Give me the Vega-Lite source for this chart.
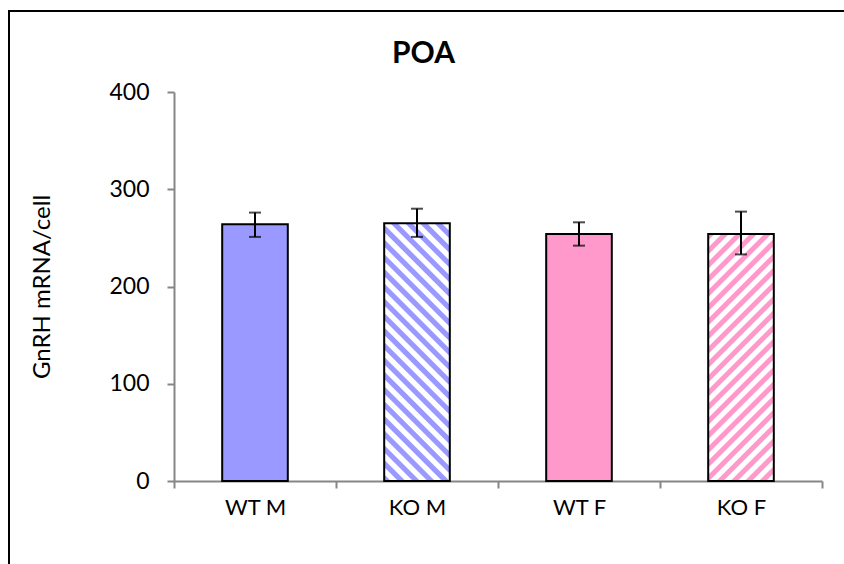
{
  "$schema": "https://vega.github.io/schema/vega-lite/v6.json",
  "autosize": {"type": "none"},
  "padding": {"left": 9, "top": 11, "right": 0, "bottom": 0},
  "width": 835,
  "height": 553,
  "background": "white",
  "title": {
    "text": "POA",
    "font": "Lato",
    "fontSize": 30,
    "fontWeight": "bold",
    "color": "black",
    "anchor": "middle",
    "dx": -3,
    "offset": -58
  },
  "data": {
    "values": [
      {"group": "WT M", "mean": 264, "lo": 251, "hi": 276},
      {"group": "KO M", "mean": 265, "lo": 251, "hi": 280},
      {"group": "WT F", "mean": 254, "lo": 242, "hi": 266},
      {"group": "KO F", "mean": 254, "lo": 233, "hi": 277}
    ]
  },
  "encoding": {
    "x": {
      "field": "group",
      "type": "nominal",
      "sort": ["WT M", "KO M", "WT F", "KO F"],
      "scale": {"domain": ["WT M", "KO M", "WT F", "KO F"], "range": [165, 813], "paddingInner": 0, "paddingOuter": 0},
      "axis": {
        "title": null,
        "labelAngle": 0,
        "tickBand": "extent",
        "offset": -83,
        "domainColor": "#868686",
        "domainWidth": 2,
        "tickColor": "#868686",
        "tickWidth": 2,
        "tickSize": 7,
        "labelFont": "Lato",
        "labelFontSize": 22,
        "labelColor": "black",
        "labelPadding": 9
      }
    }
  },
  "layer": [
    {
      "transform": [{"filter": "datum.group == 'WT M' || datum.group == 'WT F'"}],
      "mark": {"type": "bar", "width": {"band": 0.405}, "stroke": "black", "strokeWidth": 2},
      "encoding": {
        "y": {
          "field": "mean",
          "type": "quantitative",
          "scale": {"domain": [0, 400], "range": [470, 81], "nice": false},
          "axis": {
            "title": "GnRH mRNA/cell",
            "values": [0, 100, 200, 300, 400],
            "grid": false,
            "offset": -165,
            "domainColor": "#868686",
            "domainWidth": 2,
            "tickColor": "#868686",
            "tickWidth": 2,
            "tickSize": 7,
            "labelFont": "Lato",
            "labelFontSize": 23,
            "labelColor": "black",
            "labelPadding": 18,
            "titleFont": "Lato",
            "titleFontSize": 24,
            "titleFontWeight": "normal",
            "titleColor": "black",
            "titlePadding": 54
          }
        },
        "fill": {
          "field": "group",
          "type": "nominal",
          "scale": {"domain": ["WT M", "WT F"], "range": ["#9999FF", "#FF99CC"]},
          "legend": null
        }
      }
    },
    {
      "transform": [{"filter": "datum.group == 'KO M'"}],
      "mark": {
        "type": "bar",
        "width": {"band": 0.405},
        "stroke": "black",
        "strokeWidth": 2,
        "fill": {
          "gradient": "linear",
          "x1": 0, "y1": 1, "x2": 0.2999, "y2": -0.1782,
          "stops": [
            {"offset": 0, "color": "#9999FF"}, {"offset": 0.0182, "color": "#9999FF"}, {"offset": 0.0227, "color": "#FFFFFF"}, {"offset": 0.0409, "color": "#FFFFFF"},
            {"offset": 0.0455, "color": "#9999FF"}, {"offset": 0.0636, "color": "#9999FF"}, {"offset": 0.0682, "color": "#FFFFFF"}, {"offset": 0.0864, "color": "#FFFFFF"},
            {"offset": 0.0909, "color": "#9999FF"}, {"offset": 0.1091, "color": "#9999FF"}, {"offset": 0.1136, "color": "#FFFFFF"}, {"offset": 0.1318, "color": "#FFFFFF"},
            {"offset": 0.1364, "color": "#9999FF"}, {"offset": 0.1545, "color": "#9999FF"}, {"offset": 0.1591, "color": "#FFFFFF"}, {"offset": 0.1773, "color": "#FFFFFF"},
            {"offset": 0.1818, "color": "#9999FF"}, {"offset": 0.2, "color": "#9999FF"}, {"offset": 0.2045, "color": "#FFFFFF"}, {"offset": 0.2227, "color": "#FFFFFF"},
            {"offset": 0.2273, "color": "#9999FF"}, {"offset": 0.2455, "color": "#9999FF"}, {"offset": 0.25, "color": "#FFFFFF"}, {"offset": 0.2682, "color": "#FFFFFF"},
            {"offset": 0.2727, "color": "#9999FF"}, {"offset": 0.2909, "color": "#9999FF"}, {"offset": 0.2955, "color": "#FFFFFF"}, {"offset": 0.3136, "color": "#FFFFFF"},
            {"offset": 0.3182, "color": "#9999FF"}, {"offset": 0.3364, "color": "#9999FF"}, {"offset": 0.3409, "color": "#FFFFFF"}, {"offset": 0.3591, "color": "#FFFFFF"},
            {"offset": 0.3636, "color": "#9999FF"}, {"offset": 0.3818, "color": "#9999FF"}, {"offset": 0.3864, "color": "#FFFFFF"}, {"offset": 0.4045, "color": "#FFFFFF"},
            {"offset": 0.4091, "color": "#9999FF"}, {"offset": 0.4273, "color": "#9999FF"}, {"offset": 0.4318, "color": "#FFFFFF"}, {"offset": 0.45, "color": "#FFFFFF"},
            {"offset": 0.4545, "color": "#9999FF"}, {"offset": 0.4727, "color": "#9999FF"}, {"offset": 0.4773, "color": "#FFFFFF"}, {"offset": 0.4955, "color": "#FFFFFF"},
            {"offset": 0.5, "color": "#9999FF"}, {"offset": 0.5182, "color": "#9999FF"}, {"offset": 0.5227, "color": "#FFFFFF"}, {"offset": 0.5409, "color": "#FFFFFF"},
            {"offset": 0.5455, "color": "#9999FF"}, {"offset": 0.5636, "color": "#9999FF"}, {"offset": 0.5682, "color": "#FFFFFF"}, {"offset": 0.5864, "color": "#FFFFFF"},
            {"offset": 0.5909, "color": "#9999FF"}, {"offset": 0.6091, "color": "#9999FF"}, {"offset": 0.6136, "color": "#FFFFFF"}, {"offset": 0.6318, "color": "#FFFFFF"},
            {"offset": 0.6364, "color": "#9999FF"}, {"offset": 0.6545, "color": "#9999FF"}, {"offset": 0.6591, "color": "#FFFFFF"}, {"offset": 0.6773, "color": "#FFFFFF"},
            {"offset": 0.6818, "color": "#9999FF"}, {"offset": 0.7, "color": "#9999FF"}, {"offset": 0.7045, "color": "#FFFFFF"}, {"offset": 0.7227, "color": "#FFFFFF"},
            {"offset": 0.7273, "color": "#9999FF"}, {"offset": 0.7455, "color": "#9999FF"}, {"offset": 0.75, "color": "#FFFFFF"}, {"offset": 0.7682, "color": "#FFFFFF"},
            {"offset": 0.7727, "color": "#9999FF"}, {"offset": 0.7909, "color": "#9999FF"}, {"offset": 0.7955, "color": "#FFFFFF"}, {"offset": 0.8136, "color": "#FFFFFF"},
            {"offset": 0.8182, "color": "#9999FF"}, {"offset": 0.8364, "color": "#9999FF"}, {"offset": 0.8409, "color": "#FFFFFF"}, {"offset": 0.8591, "color": "#FFFFFF"},
            {"offset": 0.8636, "color": "#9999FF"}, {"offset": 0.8818, "color": "#9999FF"}, {"offset": 0.8864, "color": "#FFFFFF"}, {"offset": 0.9045, "color": "#FFFFFF"},
            {"offset": 0.9091, "color": "#9999FF"}, {"offset": 0.9273, "color": "#9999FF"}, {"offset": 0.9318, "color": "#FFFFFF"}, {"offset": 0.95, "color": "#FFFFFF"},
            {"offset": 0.9545, "color": "#9999FF"}, {"offset": 0.9727, "color": "#9999FF"}, {"offset": 0.9773, "color": "#FFFFFF"}, {"offset": 0.9955, "color": "#FFFFFF"},
            {"offset": 1, "color": "#9999FF"}
          ]
        }
      },
      "encoding": {
        "y": {"field": "mean", "type": "quantitative", "axis": {"title": "GnRH mRNA/cell"}}
      }
    },
    {
      "transform": [{"filter": "datum.group == 'KO F'"}],
      "mark": {
        "type": "bar",
        "width": {"band": 0.405},
        "stroke": "black",
        "strokeWidth": 2,
        "fill": {
          "gradient": "linear",
          "x1": 0, "y1": 0, "x2": 0.314, "y2": 1.1822,
          "stops": [
            {"offset": 0, "color": "#FF99CC"}, {"offset": 0.0182, "color": "#FF99CC"}, {"offset": 0.0227, "color": "#FFFFFF"}, {"offset": 0.0409, "color": "#FFFFFF"},
            {"offset": 0.0455, "color": "#FF99CC"}, {"offset": 0.0636, "color": "#FF99CC"}, {"offset": 0.0682, "color": "#FFFFFF"}, {"offset": 0.0864, "color": "#FFFFFF"},
            {"offset": 0.0909, "color": "#FF99CC"}, {"offset": 0.1091, "color": "#FF99CC"}, {"offset": 0.1136, "color": "#FFFFFF"}, {"offset": 0.1318, "color": "#FFFFFF"},
            {"offset": 0.1364, "color": "#FF99CC"}, {"offset": 0.1545, "color": "#FF99CC"}, {"offset": 0.1591, "color": "#FFFFFF"}, {"offset": 0.1773, "color": "#FFFFFF"},
            {"offset": 0.1818, "color": "#FF99CC"}, {"offset": 0.2, "color": "#FF99CC"}, {"offset": 0.2045, "color": "#FFFFFF"}, {"offset": 0.2227, "color": "#FFFFFF"},
            {"offset": 0.2273, "color": "#FF99CC"}, {"offset": 0.2455, "color": "#FF99CC"}, {"offset": 0.25, "color": "#FFFFFF"}, {"offset": 0.2682, "color": "#FFFFFF"},
            {"offset": 0.2727, "color": "#FF99CC"}, {"offset": 0.2909, "color": "#FF99CC"}, {"offset": 0.2955, "color": "#FFFFFF"}, {"offset": 0.3136, "color": "#FFFFFF"},
            {"offset": 0.3182, "color": "#FF99CC"}, {"offset": 0.3364, "color": "#FF99CC"}, {"offset": 0.3409, "color": "#FFFFFF"}, {"offset": 0.3591, "color": "#FFFFFF"},
            {"offset": 0.3636, "color": "#FF99CC"}, {"offset": 0.3818, "color": "#FF99CC"}, {"offset": 0.3864, "color": "#FFFFFF"}, {"offset": 0.4045, "color": "#FFFFFF"},
            {"offset": 0.4091, "color": "#FF99CC"}, {"offset": 0.4273, "color": "#FF99CC"}, {"offset": 0.4318, "color": "#FFFFFF"}, {"offset": 0.45, "color": "#FFFFFF"},
            {"offset": 0.4545, "color": "#FF99CC"}, {"offset": 0.4727, "color": "#FF99CC"}, {"offset": 0.4773, "color": "#FFFFFF"}, {"offset": 0.4955, "color": "#FFFFFF"},
            {"offset": 0.5, "color": "#FF99CC"}, {"offset": 0.5182, "color": "#FF99CC"}, {"offset": 0.5227, "color": "#FFFFFF"}, {"offset": 0.5409, "color": "#FFFFFF"},
            {"offset": 0.5455, "color": "#FF99CC"}, {"offset": 0.5636, "color": "#FF99CC"}, {"offset": 0.5682, "color": "#FFFFFF"}, {"offset": 0.5864, "color": "#FFFFFF"},
            {"offset": 0.5909, "color": "#FF99CC"}, {"offset": 0.6091, "color": "#FF99CC"}, {"offset": 0.6136, "color": "#FFFFFF"}, {"offset": 0.6318, "color": "#FFFFFF"},
            {"offset": 0.6364, "color": "#FF99CC"}, {"offset": 0.6545, "color": "#FF99CC"}, {"offset": 0.6591, "color": "#FFFFFF"}, {"offset": 0.6773, "color": "#FFFFFF"},
            {"offset": 0.6818, "color": "#FF99CC"}, {"offset": 0.7, "color": "#FF99CC"}, {"offset": 0.7045, "color": "#FFFFFF"}, {"offset": 0.7227, "color": "#FFFFFF"},
            {"offset": 0.7273, "color": "#FF99CC"}, {"offset": 0.7455, "color": "#FF99CC"}, {"offset": 0.75, "color": "#FFFFFF"}, {"offset": 0.7682, "color": "#FFFFFF"},
            {"offset": 0.7727, "color": "#FF99CC"}, {"offset": 0.7909, "color": "#FF99CC"}, {"offset": 0.7955, "color": "#FFFFFF"}, {"offset": 0.8136, "color": "#FFFFFF"},
            {"offset": 0.8182, "color": "#FF99CC"}, {"offset": 0.8364, "color": "#FF99CC"}, {"offset": 0.8409, "color": "#FFFFFF"}, {"offset": 0.8591, "color": "#FFFFFF"},
            {"offset": 0.8636, "color": "#FF99CC"}, {"offset": 0.8818, "color": "#FF99CC"}, {"offset": 0.8864, "color": "#FFFFFF"}, {"offset": 0.9045, "color": "#FFFFFF"},
            {"offset": 0.9091, "color": "#FF99CC"}, {"offset": 0.9273, "color": "#FF99CC"}, {"offset": 0.9318, "color": "#FFFFFF"}, {"offset": 0.95, "color": "#FFFFFF"},
            {"offset": 0.9545, "color": "#FF99CC"}, {"offset": 0.9727, "color": "#FF99CC"}, {"offset": 0.9773, "color": "#FFFFFF"}, {"offset": 0.9955, "color": "#FFFFFF"},
            {"offset": 1, "color": "#FF99CC"}
          ]
        }
      },
      "encoding": {
        "y": {"field": "mean", "type": "quantitative", "axis": {"title": "GnRH mRNA/cell"}}
      }
    },
    {
      "mark": {
        "type": "errorbar",
        "color": "black",
        "ticks": {"size": 12, "thickness": 2, "color": "black"},
        "rule": {"strokeWidth": 2, "color": "black"}
      },
      "encoding": {
        "y": {"field": "lo", "type": "quantitative", "axis": {"title": "GnRH mRNA/cell"}},
        "y2": {"field": "hi"}
      }
    }
  ],
  "config": {
    "view": {"stroke": "black", "strokeWidth": 2, "strokeDash": [835, 1388, 553]}
  }
}
